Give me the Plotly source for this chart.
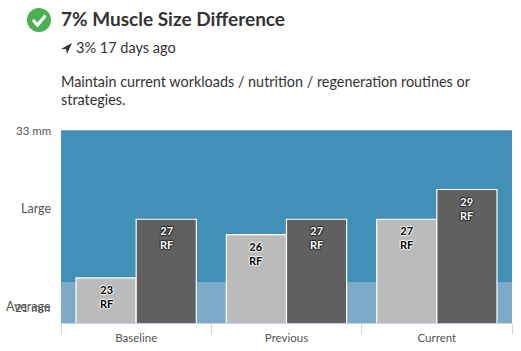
import plotly.graph_objects as go

W, H = 521, 351
PL, PR, PT, PB = 61, 512, 130, 323

categories = ["Baseline", "Previous", "Current"]
light_values = [23.8, 26.5, 27.45]
dark_values = [27.45, 27.45, 29.3]
light_labels = ["23<br>RF", "26<br>RF", "27<br>RF"]
dark_labels = ["27<br>RF", "27<br>RF", "29<br>RF"]
y_min, y_max = 21, 33
average_top = 23.5

FONT = "Lato"
TXT = "#333333"
AX = "#c6d4e6"


def px(x):
    return (x - PL) / (PR - PL)


def py(y):
    return (PB - y) / (PB - PT)


def text(x, y, s, size, color=TXT, anchor="left", family=FONT):
    return dict(xref="paper", yref="paper", x=px(x), y=py(y), text=s, showarrow=False,
                xanchor=anchor, yanchor="middle", align=anchor, borderpad=0, borderwidth=0,
                font=dict(family=family, size=size, color=color))


def bar(name, vals, color):
    return go.Bar(name=name, x=categories, y=vals,
                  marker=dict(color=color, line=dict(color="white", width=1.2)),
                  cliponaxis=False, hoverinfo="skip")


def value_labels(vals, labels, offset, tcolor, halo):
    return [
        dict(xref="x", yref="y", x=i + offset, y=v, yshift=-5, text=t, showarrow=False,
             xanchor="center", yanchor="top", align="center", borderpad=0, borderwidth=0,
             font=dict(family=FONT, size=11, color=tcolor, weight=700,
                       shadow=f"1px 0 1px {halo}, -1px 0 1px {halo}, 0 1px 1px {halo}, 0 -1px 1px {halo}"))
        for i, (v, t) in enumerate(zip(vals, labels))
    ]


fig = go.Figure([
    bar("Light", light_values, "#bbbbbb"),
    bar("Dark", dark_values, "#606060"),
])


def pxpath(points):
    parts = [f"{c} {px(x):.4f} {py(y):.4f}" for c, x, y in points]
    return " ".join(parts) + " Z"


shapes = [
    dict(type="rect", xref="paper", yref="y", x0=0, x1=1, y0=average_top, y1=y_max,
         fillcolor="#4190b7", line_width=0, layer="below"),
    dict(type="rect", xref="paper", yref="y", x0=0, x1=1, y0=y_min, y1=average_top,
         fillcolor="#7eaaca", line_width=0, layer="below"),
    dict(type="rect", xref="paper", yref="paper", x0=0, x1=1, y0=py(131), y1=py(130),
         fillcolor="#7eaaca", line_width=0, layer="below"),
    dict(type="circle", xref="paper", yref="paper", x0=px(27), x1=px(51), y0=py(32), y1=py(8),
         fillcolor="#4caf50", line_width=0),
    dict(type="path", xref="paper", yref="paper",
         path=f"M {px(33):.4f} {py(20):.4f} L {px(37.5):.4f} {py(25):.4f} L {px(45.5):.4f} {py(15.5):.4f}",
         line=dict(color="white", width=3.2)),
    dict(type="path", xref="paper", yref="paper",
         path=pxpath([("M", 61, 49), ("L", 72, 43), ("L", 67, 54), ("L", 66, 49)]),
         fillcolor="#333333", line_width=0),
]

annotations = [
    text(61, 18.5, "<b>7% Muscle Size Difference</b>", 19),
    text(76, 47, "3% 17 days ago", 14.5),
    text(61, 81, "Maintain current workloads / nutrition / regeneration routines or", 14.4),
    text(61, 100, "strategies.", 14.4),
    text(50.5, 130, "33 mm", 11.5, "#555555", "right"),
    text(51, 208.5, "Large", 12.5, "#555555", "right"),
    text(51, 306, "Average", 12.5, "#555555", "right"),
    text(50, 307, "21 mm", 11.5, "#555555", "right"),
]
annotations += value_labels(light_values, light_labels, -0.2, "#000000", "#ffffff")
annotations += value_labels(dark_values, dark_labels, 0.2, "#ffffff", "#222222")

fig.update_layout(
    width=W, height=H, autosize=False,
    margin=dict(l=PL, r=W - PR, t=PT, b=H - PB, pad=0),
    paper_bgcolor="white", plot_bgcolor="white",
    barmode="group", bargap=0.2, bargroupgap=0,
    showlegend=False, shapes=shapes, annotations=annotations,
    font=dict(family=FONT, color="#555555"),
    xaxis=dict(tickson="boundaries", ticks="outside", ticklen=10, tickcolor=AX, tickwidth=1,
               ticklabelstandoff=4, automargin=False,
               showline=True, linecolor=AX, linewidth=1, showgrid=False, zeroline=False,
               tickfont=dict(family=FONT, size=11.5, color="#555555")),
    yaxis=dict(range=[y_min, y_max], showticklabels=False, ticks="", showgrid=False, zeroline=False,
               automargin=False),
)

fig.write_html("out.html", config=dict(displayModeBar=False),
               post_script="document.body.style.margin='0';document.body.style.overflow='hidden';")
